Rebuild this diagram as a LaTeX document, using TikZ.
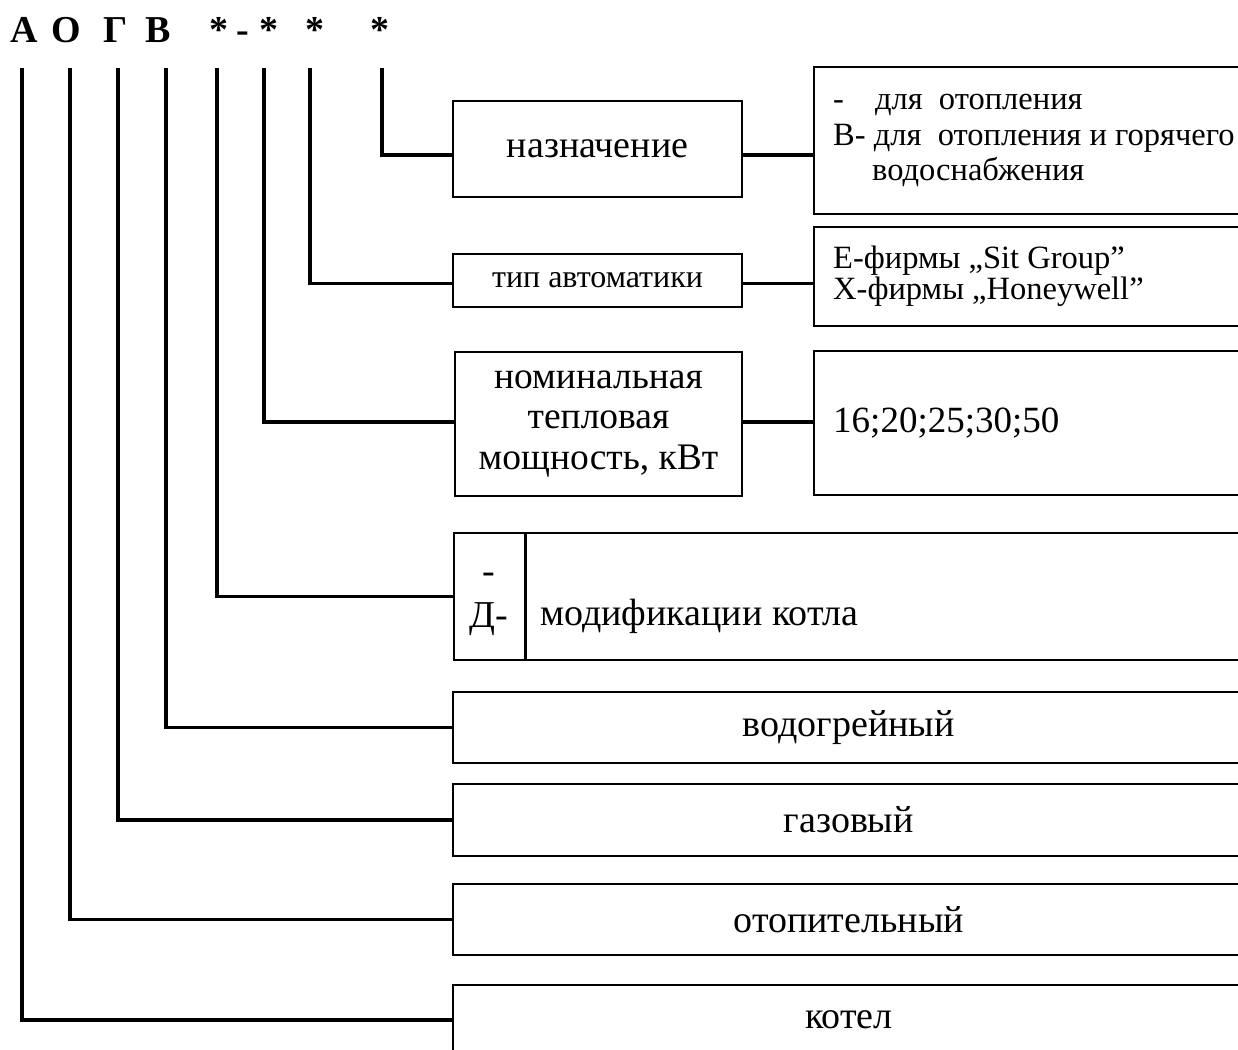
\documentclass[tikz,border=0pt]{standalone}
\usepackage{fontspec}
\setmainfont{Liberation Serif}
\usetikzlibrary{positioning}
\newcommand{\boxfont}{\fontsize{38}{42}\selectfont}
\newcommand{\smfont}{\fontsize{32.5}{35.5}\selectfont}
\newcommand{\numfont}{\fontsize{37}{40}\selectfont}
\newcommand{\headfont}{\fontsize{38}{40}\selectfont\bfseries}

\begin{document}
\begin{tikzpicture}[x=1pt,y=-1pt,line join=miter]
	\tikzset{lbox/.style={draw,line width=1.6pt,inner sep=0pt,align=center,font=\boxfont},
		rbox/.style={draw,line width=1.6pt,anchor=west,minimum width=450pt,inner sep=0pt},
		wbox/.style={draw,line width=1.6pt,anchor=west,minimum width=792pt,inner sep=0pt,font=\boxfont},
		rtext/.style={inner sep=0pt,align=left,font=\smfont},
		head/.style={anchor=base,inner sep=0pt,font=\headfont},
		link/.style={line width=3.3pt}}
	\useasboundingbox (0,0) rectangle (1238,1049);
	\clip (0,0) rectangle (1238,1049);
	% header
	\node[head] (hA) at (24.5,42) {А};
	\node[head] (hO) at (66.5,42) {О};
	\node[head] (hG) at (115.5,42) {Г};
	\node[head] (hV) at (158.5,42) {В};
	\node[head] (s1) at (218.5,42) {*};
	\node[head] (hd) at (242.5,42) {-};
	\node[head] (s2) at (268.5,42) {*};
	\node[head] (s3) at (315,42) {*};
	\node[head] (s4) at (380,42) {*};
	\coordinate (vA) at (22,68);
	\coordinate (vO) at (70,68);
	\coordinate (vG) at (118,68);
	\coordinate (vV) at (166,68);
	\coordinate (v1) at (217,68);
	\coordinate (v2) at (264,68);
	\coordinate (v3) at (310,68);
	\coordinate (v4) at (382,68);
	% boxes
	\node[lbox,minimum width=289pt,minimum height=96pt] (nazn) at (597.5,149) {назначение};
	\node[lbox,minimum width=289pt,minimum height=53pt,font=\fontsize{32}{36}\selectfont] (tip) at (597.5,280.5) {тип автоматики};
	\node[lbox,minimum width=287pt,minimum height=144pt,font=\fontsize{37.5}{40.5}\selectfont] (nom) at (598.5,424)
		{номинальная\\тепловая\\мощность, кВт};
	\node[rbox,minimum height=147pt] (r1) at (813,140.5) {};
	\node[rbox,minimum height=99pt] (r2) at (813,276.5) {};
	\node[rbox,minimum height=144pt] (r3) at (813,423) {};
	\node[rtext,right=20pt of r1.west] (r1t) {-\hspace{31pt}для~~отопления\\В- для~~отопления и горячего\\\hspace{39pt}водоснабжения};
	\node[rtext,font=\fontsize{32.5}{31}\selectfont,right=20pt of r2.west] (r2t) {E-фирмы „Sit Group”\\X-фирмы „Honeywell”};
	\node[rtext,font=\numfont,right=20pt of r3.west] (r3t) {16;20;25;30;50};
	\node[wbox,minimum height=127pt] (mod) at (453,596.5) {};
	\draw[line width=3pt] ([xshift=72pt]mod.north west) -- ([xshift=72pt]mod.south west);
	\node[inner sep=0pt,align=center,font=\fontsize{38}{44}\selectfont] (modl) at ([xshift=36pt,yshift=-8pt]mod.west) {-\\Д-};
	\node[anchor=base west,inner sep=0pt,font=\boxfont] (modt) at (540,625) {модификации котла};
	\node[wbox,minimum height=71pt] (vod) at (452,727.5) {водогрейный};
	\node[wbox,minimum height=72pt] (gaz) at (452,820) {газовый};
	\node[wbox,minimum height=71pt] (otop) at (452,919.5) {отопительный};
	\node[wbox,minimum height=70pt] (kotel) at (452,1020) {котел};
	% links
	\draw[link] (vA) |- (kotel.west);
	\draw[link] (vO) |- (otop.west);
	\draw[link] (vG) |- (gaz.west);
	\draw[link] (vV) |- (vod.west);
	\draw[link] (v1) |- (mod.west);
	\draw[link] (v2) |- ([yshift=2pt]nom.west);
	\draw[link] (v3) |- ([yshift=-3pt]tip.west);
	\draw[link] (v4) |- ([yshift=-6pt]nazn.west);
	\draw[link] ([yshift=-6pt]nazn.east) -- ([yshift=-6pt]nazn.east -| r1.west);
	\draw[link] ([yshift=-3pt]tip.east) -- ([yshift=-3pt]tip.east -| r2.west);
	\draw[link] ([yshift=2pt]nom.east) -- ([yshift=2pt]nom.east -| r3.west);
\end{tikzpicture}
\end{document}
